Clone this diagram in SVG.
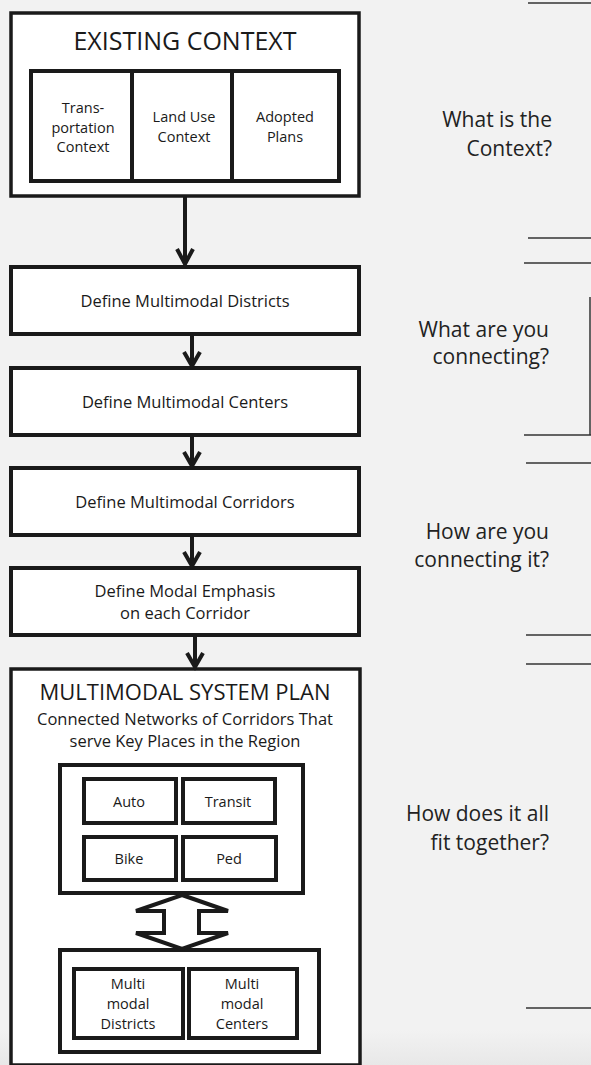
<svg xmlns="http://www.w3.org/2000/svg" width="591" height="1065" viewBox="0 0 591 1065">
  <defs>
    <linearGradient id="bottomShade" x1="0" y1="0" x2="0" y2="1">
      <stop offset="0" stop-color="#f2f2f2"/>
      <stop offset="1" stop-color="#e8e8e8"/>
    </linearGradient>
  </defs>
  <style>
    .box { fill: #ffffff; stroke: #1a1a1a; stroke-width: 4; }
    .outer { fill: #ffffff; stroke: #1a1a1a; stroke-width: 3.5; }
    .t { font-family: "Open Sans", "Noto Sans", sans-serif; fill: #1a1a1a; text-anchor: middle; }
    .q { font-family: "Open Sans", "Noto Sans", sans-serif; fill: #222222; text-anchor: end; font-size: 21px; }
    .conn { fill: none; stroke: #1a1a1a; stroke-width: 4; stroke-linejoin: miter; }
    .rule { stroke: #333333; stroke-width: 1.5; fill: none; }
  </style>
  <rect x="0" y="0" width="591" height="1065" fill="#f2f2f2"/>
  <rect x="0" y="1030" width="591" height="35" fill="url(#bottomShade)"/>

  <g id="existing-context">
    <rect class="outer" x="11" y="13" width="348" height="183"/>
    <text class="t" x="185" y="50" font-size="25">EXISTING CONTEXT</text>
    <rect class="box" x="31" y="71" width="308" height="110"/>
    <line x1="132" y1="71" x2="132" y2="181" stroke="#1a1a1a" stroke-width="4"/>
    <line x1="232" y1="71" x2="232" y2="181" stroke="#1a1a1a" stroke-width="4"/>
    <text class="t" font-size="14.5"><tspan x="83" y="113">Trans-</tspan><tspan x="83" y="133">portation</tspan><tspan x="83" y="152">Context</tspan></text>
    <text class="t" font-size="14.5"><tspan x="184" y="122">Land Use</tspan><tspan x="184" y="142">Context</tspan></text>
    <text class="t" font-size="14.5"><tspan x="285" y="122">Adopted</tspan><tspan x="285" y="142">Plans</tspan></text>
  </g>

  <g id="districts">
    <rect class="box" x="11" y="267" width="348" height="67"/>
    <text class="t" x="185" y="307" font-size="16.5">Define Multimodal Districts</text>
  </g>
  <g id="centers">
    <rect class="box" x="11" y="368" width="348" height="67"/>
    <text class="t" x="185" y="408" font-size="16.5">Define Multimodal Centers</text>
  </g>
  <g id="corridors">
    <rect class="box" x="11" y="468" width="348" height="67"/>
    <text class="t" x="185" y="508" font-size="16.5">Define Multimodal Corridors</text>
  </g>
  <g id="emphasis">
    <rect class="box" x="11" y="568" width="348" height="67"/>
    <text class="t" font-size="16.5"><tspan x="185" y="597">Define Modal Emphasis</tspan><tspan x="185" y="619">on each Corridor</tspan></text>
  </g>

  <g id="system-plan">
    <rect class="outer" x="11" y="669" width="349" height="396"/>
    <text class="t" x="185" y="700" font-size="22">MULTIMODAL SYSTEM PLAN</text>
    <text class="t" font-size="16.5"><tspan x="185" y="725">Connected Networks of Corridors That</tspan><tspan x="185" y="747">serve Key Places in the Region</tspan></text>
  </g>
  <g id="modes">
    <rect class="box" x="60" y="765" width="243" height="128"/>
    <rect class="box" x="84" y="779" width="92" height="44"/>
    <text class="t" x="129" y="807" font-size="14.5">Auto</text>
    <rect class="box" x="183" y="779" width="92" height="44"/>
    <text class="t" x="228" y="807" font-size="14.5">Transit</text>
    <rect class="box" x="84" y="837" width="92" height="43"/>
    <text class="t" x="129" y="864" font-size="14.5">Bike</text>
    <rect class="box" x="183" y="837" width="93" height="43"/>
    <text class="t" x="229" y="864" font-size="14.5">Ped</text>
  </g>
  <g id="places">
    <rect class="box" x="60" y="950" width="259" height="102"/>
    <rect class="box" x="74" y="969" width="109" height="69"/>
    <text class="t" font-size="14.5"><tspan x="128" y="989">Multi</tspan><tspan x="128" y="1009">modal</tspan><tspan x="128" y="1029">Districts</tspan></text>
    <rect class="box" x="189" y="969" width="108" height="69"/>
    <text class="t" font-size="14.5"><tspan x="242" y="989">Multi</tspan><tspan x="242" y="1009">modal</tspan><tspan x="242" y="1029">Centers</tspan></text>
  </g>

  <g id="connectors">
    <path class="conn" d="M185 196 V264 M177 249 L185 264 L193 249"/>
    <path class="conn" d="M192 334 V366 M184 352 L192 366 L200 352"/>
    <path class="conn" d="M192 435 V466 M184 452 L192 466 L200 452"/>
    <path class="conn" d="M192 535 V566 M184 552 L192 566 L200 552"/>
    <path class="conn" d="M195 635 V667 M187 653 L195 667 L203 653"/>
    <polygon class="conn" style="fill:#ffffff" points="182,895 228,911 199,911 199,933 228,933 182,949 136,933 164,933 164,911 136,911"/>
  </g>

  <g id="questions">
    <text class="q"><tspan x="552" y="127">What is the</tspan><tspan x="552" y="156">Context?</tspan></text>
    <text class="q"><tspan x="549" y="337">What are you</tspan><tspan x="549" y="364">connecting?</tspan></text>
    <text class="q"><tspan x="549" y="539">How are you</tspan><tspan x="549" y="567">connecting it?</tspan></text>
    <text class="q"><tspan x="549" y="821">How does it all</tspan><tspan x="549" y="850">fit together?</tspan></text>
  </g>

  <g id="brackets">
    <line class="rule" x1="528" y1="3" x2="591" y2="3"/>
    <line class="rule" x1="528" y1="238" x2="591" y2="238"/>
    <line class="rule" x1="524" y1="263" x2="591" y2="263"/>
    <line class="rule" x1="590" y1="297" x2="590" y2="435" stroke="#555555"/>
    <line class="rule" x1="524" y1="435" x2="591" y2="435"/>
    <line class="rule" x1="526" y1="463" x2="591" y2="463"/>
    <line class="rule" x1="526" y1="635" x2="591" y2="635"/>
    <line class="rule" x1="526" y1="664" x2="591" y2="664"/>
    <line class="rule" x1="526" y1="1008" x2="591" y2="1008"/>
  </g>
</svg>
